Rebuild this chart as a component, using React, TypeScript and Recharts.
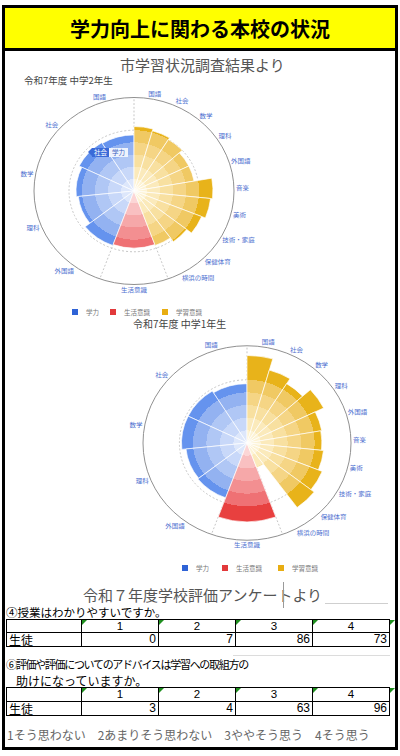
import React from 'react';
import { RadialBarChart, RadialBar, PolarAngleAxis, PolarRadiusAxis, PolarGrid } from 'recharts';

// ---------- data ----------
const abilitySubjects = ['国語', '社会', '数学', '理科', '外国語'];
const lifeCategories = ['生活意識'];
const learningSubjects = ['国語', '社会', '数学', '理科', '外国語', '音楽', '美術', '技術・家庭', '保健体育', '横浜の時間'];

const grade2Ability = [60, 61, 58, 56, 62];
const grade2Life = [61];
const grade2Learning = [69, 67, 65, 61, 61, 79, 77, 73, 67, 62];

const grade1Ability = [61, 63, 63, 59, 60];
const grade1Life = [81];
const grade1Learning = [90, 78, 72, 82, 73, 72, 74, 78, 82, 27];

const legendItems = ['学力', '生活意識', '学習意識'];
const surveyChoices = ['1', '2', '3', '4'];
const q1Counts = [0, 7, 86, 73];
const q2Counts = [3, 4, 63, 96];

// ---------- styles ----------
const BLUE = ['#dde7fb', '#c8d8f9', '#b0c7f5', '#93b2f1', '#6593ee', '#4a80ea'];
const RED = ['#fcd6d6', '#f9c0c1', '#f6a8a9', '#f38f91', '#ef7174', '#e8403f'];
const YELLOW = ['#fdf3d4', '#fbeabb', '#f8e0a0', '#f5d585', '#f0c963', '#e8b31a'];
const LEGEND_COLORS = ['#2f63d6', '#e2393b', '#e8ad12'];
const JP = '"Noto Sans CJK JP", "Noto Sans", sans-serif';
const SQUASH = 0.935;

// angular layout of the three groups (degrees, recharts convention: 90 = top, counter-clockwise positive)
const GROUPS = [
  { key: 'ability', from: 90, to: 250, colors: BLUE },
  { key: 'life', from: 250, to: 290, colors: RED },
  { key: 'learning', from: 90, to: -70, colors: YELLOW },
];

const bandStops = (colors: string[]) =>
  colors.flatMap((col, i) => {
    const a = i * 0.13;
    const b = i === colors.length - 1 ? 1 : (i + 1) * 0.13;
    return [
      <stop key={`a${i}`} offset={a} stopColor={col} />,
      <stop key={`b${i}`} offset={b} stopColor={col} />,
    ];
  });

const makeTick = (cx: number, cy: number, r: number, halfBand: number) => (props: any) => {
  const ang = ((props.payload && props.payload.coordinate) || 0) + halfBand;
  const rad = (-ang * Math.PI) / 180;
  const x = cx + r * Math.cos(rad);
  const y = cy + r * Math.sin(rad);
  const cos = Math.cos(rad);
  const anchor = cos > 0.02 ? 'start' : cos < -0.02 ? 'end' : 'middle';
  const dy = 0.35 + 0.5 * Math.sin(rad);
  return (
    <text x={x} y={y} dy={`${dy}em`} textAnchor={anchor} fontSize={6.5} fill="#4d6fd0" fontFamily={JP}>
      {props.payload.value}
    </text>
  );
};

function RoseChart({ size, radius, ability, life, learning, gid }: any) {
  const c = size / 2;
  const mk = (names: string[], vals: number[]) => names.map((name, i) => ({ name, value: vals[i] }));
  const datasets: any = {
    ability: mk(abilitySubjects, ability),
    life: mk(lifeCategories, life),
    learning: mk(learningSubjects, learning),
  };
  return (
    <div style={{ position: 'relative', width: size, height: size, transform: `scaleY(${SQUASH})` }}>
      {GROUPS.map((G, li) => {
        const data = datasets[G.key];
        const band = (G.to - G.from) / data.length;
        // recharts places each centric bar one band before its category slot, so the range is shifted by one band
        const start = G.from + band;
        const end = G.to + band;
        return (
          <div key={G.key} style={{ position: 'absolute', left: 0, top: 0 }}>
            <RadialBarChart
              width={size}
              height={size}
              cx={c}
              cy={c}
              innerRadius={0}
              outerRadius={radius}
              startAngle={start}
              endAngle={end}
              data={data}
              layout="centric"
              barCategoryGap={0}
              barGap={0}
              margin={{ top: 0, right: 0, bottom: 0, left: 0 }}
            >
              <defs>
                <radialGradient id={`${gid}-${G.key}`} gradientUnits="userSpaceOnUse" cx={c} cy={c} r={radius}>
                  {bandStops(G.colors)}
                </radialGradient>
              </defs>
              {li === 0 && (
                <PolarGrid
                  gridType="circle"
                  polarRadius={[radius * 0.65]}
                  polarAngles={[GROUPS[0].from, GROUPS[1].from, GROUPS[1].to]}
                  stroke="#c4c4c4"
                  strokeDasharray="2 2"
                />
              )}
              <PolarAngleAxis
                type="category"
                dataKey="name"
                axisLine={li === 0 ? { stroke: '#8c8c8c', strokeWidth: 1 } : false}
                axisLineType="circle"
                tickLine={false}
                tickSize={2}
                tick={makeTick(c, c, radius + 2, Math.abs(band) / 2)}
              />
              <PolarRadiusAxis type="number" domain={[0, 100]} tick={false} axisLine={false} />
              <RadialBar
                dataKey="value"
                fill={`url(#${gid}-${G.key})`}
                stroke="#ffffff"
                strokeWidth={0.7}
                isAnimationActive={false}
              />
            </RadialBarChart>
          </div>
        );
      })}
    </div>
  );
}

function Legend({ left, top, gaps }: any) {
  return (
    <div style={{ position: 'absolute', left, top, height: 8, fontFamily: JP, fontSize: 6.5, color: '#777' }}>
      {legendItems.map((name, i) => (
        <div key={name} style={{ position: 'absolute', left: gaps[i], top: 0, display: 'flex', alignItems: 'center', whiteSpace: 'nowrap' }}>
          <span style={{ display: 'inline-block', width: 6, height: 6, background: LEGEND_COLORS[i], marginRight: 8 }} />
          <span style={{ lineHeight: '8px' }}>{name}</span>
        </div>
      ))}
    </div>
  );
}

function Tri({ left, top }: any) {
  return (
    <div
      style={{
        position: 'absolute',
        left,
        top,
        width: 0,
        height: 0,
        borderTop: '5px solid #1f8f1f',
        borderRight: '5px solid transparent',
      }}
    />
  );
}

function SurveyTable({ top, counts, rowH }: any) {
  const cell: any = {
    border: '1px solid #000',
    padding: '0 2px',
    fontSize: 11.5,
    fontFamily: '"Liberation Sans", "Noto Sans CJK JP", sans-serif',
    color: '#000',
    whiteSpace: 'nowrap',
    verticalAlign: 'middle',
  };
  const colW = [75, 77, 77, 77, 77];
  return (
    <>
      <table
        style={{
          position: 'absolute',
          left: 6,
          top,
          borderCollapse: 'collapse',
          tableLayout: 'fixed',
          width: colW.reduce((a, b) => a + b, 0),
        }}
      >
        <colgroup>
          {colW.map((w, i) => (
            <col key={i} style={{ width: w }} />
          ))}
        </colgroup>
        <tbody>
          <tr>
            <td style={{ ...cell, height: rowH[0] - 1, lineHeight: `${rowH[0] - 1}px` }}></td>
            {surveyChoices.map((c) => (
              <td key={c} style={{ ...cell, textAlign: 'center', height: rowH[0] - 1, lineHeight: `${rowH[0] - 1}px` }}>
                {c}
              </td>
            ))}
          </tr>
          <tr>
            <td style={{ ...cell, fontFamily: JP, fontSize: 12, height: rowH[1] - 1, lineHeight: `${rowH[1] - 1}px` }}>生徒</td>
            {counts.map((v: number, i: number) => (
              <td key={i} style={{ ...cell, textAlign: 'right', fontSize: 12, height: rowH[1] - 1, lineHeight: `${rowH[1] - 1}px` }}>
                {v}
              </td>
            ))}
          </tr>
        </tbody>
      </table>
      {[81, 158, 235, 312, 389].map((x) => (
        <Tri key={x} left={x + 1} top={top + 1} />
      ))}
    </>
  );
}

export default function App() {
  const txt = (extra: any) => ({ position: 'absolute', fontFamily: JP, whiteSpace: 'nowrap', ...extra });
  return (
    <div style={{ position: 'absolute', left: 0, top: 0, width: 400, height: 756, background: '#fff', overflow: 'hidden' }}>
      {/* frame */}
      <div style={{ position: 'absolute', left: 2, top: 5, width: 396, height: 745, border: '3px solid #000', boxSizing: 'border-box' }} />
      {/* header */}
      <div
        style={{
          position: 'absolute',
          left: 2,
          top: 5,
          width: 396,
          height: 46,
          background: '#ffff00',
          border: '3px solid #000',
          boxSizing: 'border-box',
          display: 'flex',
          alignItems: 'center',
          justifyContent: 'center',
          fontFamily: JP,
          fontWeight: 700,
          fontSize: 20,
          color: '#000',
        }}
      >
        学力向上に関わる本校の状況
      </div>

      <div style={txt({ left: 120, top: 55, fontSize: 15, lineHeight: '20px', color: '#555' })}>市学習状況調査結果より</div>
      <div style={txt({ left: 24, top: 73, fontSize: 9.5, lineHeight: '14px', color: '#444' })}>令和7年度 中学2年生</div>

      {/* chart 1: 中学2年生 */}
      <div style={{ position: 'absolute', left: 134 - 140, top: 191 - 140 }}>
        <RoseChart size={280} radius={100} ability={grade2Ability} life={grade2Life} learning={grade2Learning} gid="g2" />
      </div>
      {/* highlighted label */}
      <div style={{ position: 'absolute', left: 88, top: 148, height: 9, display: 'flex', fontFamily: JP, fontSize: 6.5, lineHeight: '9px' }}>
        <span style={{ width: 0, height: 0, borderTop: '4.5px solid transparent', borderBottom: '4.5px solid transparent', borderRight: '4px solid #3a6ad8' }} />
        <span style={{ background: '#3a6ad8', color: '#fff', padding: '0 2px' }}>社会</span>
        <span style={{ background: '#eef3fd', color: '#3d5fc2', padding: '0 3px' }}>学力</span>
      </div>
      <Legend left={72} top={308} gaps={[0, 38, 90]} />

      <div style={txt({ left: 133, top: 317, fontSize: 10, lineHeight: '14px', color: '#444' })}>令和7年度 中学1年生</div>

      {/* chart 2: 中学1年生 */}
      <div style={{ position: 'absolute', left: 247 - 150, top: 443 - 150 }}>
        <RoseChart size={300} radius={104} ability={grade1Ability} life={grade1Life} learning={grade1Learning} gid="g1" />
      </div>
      <Legend left={182} top={564} gaps={[0, 40, 96]} />

      {/* survey section */}
      <div style={txt({ left: 83, top: 585, fontSize: 15, lineHeight: '20px', color: '#555' })}>令和７年度学校評価アンケートより</div>
      <div style={{ position: 'absolute', left: 283, top: 582, width: 1, height: 26, background: '#9a9a9a' }} />
      <div style={{ position: 'absolute', left: 325, top: 603, width: 63, height: 1, background: '#cfcfcf' }} />
      <div style={txt({ left: 6, top: 605, fontSize: 11.5, lineHeight: '14px', color: '#000' })}>④授業はわかりやすいですか。</div>
      <SurveyTable top={619} counts={q1Counts} rowH={[13, 14]} />

      <div style={{ position: 'absolute', left: 233, top: 655, width: 157, height: 1, background: '#dcdcdc' }} />
      <div style={txt({ left: 6, top: 658, fontSize: 11, lineHeight: '13px', color: '#000', letterSpacing: '-1.3px' })}>
        ⑥評価や評価についてのアドバイスは学習への取組方の
      </div>
      <div style={txt({ left: 16, top: 674, fontSize: 12, lineHeight: '13px', color: '#000' })}>
        助けになっていますか。
      </div>
      <SurveyTable top={687} counts={q2Counts} rowH={[14, 14]} />

      <div style={txt({ left: 7, top: 727, fontSize: 12, lineHeight: '16px', color: '#666' })}>
        1そう思わない　2あまりそう思わない　3ややそう思う　4そう思う
      </div>
    </div>
  );
}
